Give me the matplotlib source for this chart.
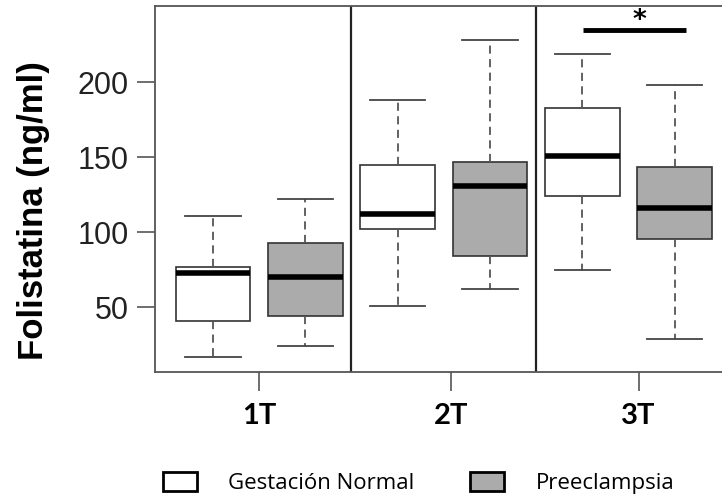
import matplotlib
matplotlib.use("Agg")
import matplotlib.pyplot as plt
from matplotlib.patches import Patch
import numpy as np

# values (ng/ml)
groups = ["1T", "2T", "3T"]
normal_lo = [17, 51, 75]
normal_q1 = [41, 102, 124]
normal_med = [73, 112, 151]
normal_q3 = [77, 145, 183]
normal_hi = [111, 188, 219]

pre_lo = [24, 62, 29]
pre_q1 = [44, 84, 95.5]
pre_med = [70, 131, 116]
pre_q3 = [93, 147, 143.5]
pre_hi = [122, 228, 198]

sig_y = 235

grey = "#ababab"

fig = plt.figure(figsize=(7.22, 5), dpi=100)
ax = fig.add_axes([0.2147, 0.256, 0.79, 0.732])

stats_n = []
stats_p = []
for i in range(3):
    stats_n.append(dict(whislo=normal_lo[i], q1=normal_q1[i], med=normal_med[i],
                        q3=normal_q3[i], whishi=normal_hi[i], fliers=[]))
    stats_p.append(dict(whislo=pre_lo[i], q1=pre_q1[i], med=pre_med[i],
                        q3=pre_q3[i], whishi=pre_hi[i], fliers=[]))

pos_n = [1, 3, 5]
pos_p = [2, 4, 6]

common = dict(widths=0.81, patch_artist=True, showfliers=False,
              medianprops=dict(color="black", linewidth=4, solid_capstyle="butt"),
              whiskerprops=dict(color="#555555", linestyle=(0, (4.5, 3)), linewidth=1.3),
              capprops=dict(color="#444444", linewidth=1.3),
              capwidths=0.6)
b1 = ax.bxp(stats_n, positions=pos_n, boxprops=dict(facecolor="white", edgecolor="#333333", linewidth=1.2), **common)
b2 = ax.bxp(stats_p, positions=pos_p, boxprops=dict(facecolor=grey, edgecolor="#333333", linewidth=1.2), **common)

# dividers between trimesters
ax.axvline(2.5, color="#222222", linewidth=1.6)
ax.axvline(4.5, color="#222222", linewidth=1.6)

# significance bar
ax.plot([5.01, 6.12], [sig_y, sig_y], color="black", linewidth=3.5, solid_capstyle="butt")
ax.text(5.62, sig_y + 1.0, "*", ha="center", va="baseline", fontsize=19, fontweight="bold")

ax.set_xlim(0.372, 6.55)
ax.set_ylim(6.7, 250.7)
ax.set_yticks([50, 100, 150, 200])
ax.set_yticklabels(["50", "100", "150", "200"], fontsize=22, family="Liberation Sans", color="#222222")
ax.set_xticks([1.5, 3.58, 5.61])
ax.set_xticklabels(groups, fontsize=21, fontweight="bold", family="Lato")
ax.tick_params(axis="y", length=13, width=1.2, color="#555555", pad=6)
ax.tick_params(axis="x", length=14, width=1.2, color="#555555", pad=8)

for s in ["left", "bottom", "top"]:
    ax.spines[s].set_color("#555555")
    ax.spines[s].set_linewidth(1.3)
ax.spines["right"].set_visible(False)

ax.set_ylabel("Folistatina (ng/ml)", fontsize=25, fontweight="bold", family="Liberation Sans")
ax.yaxis.set_label_coords(-0.184, 0.44)

handles = [Patch(facecolor="white", edgecolor="black", linewidth=2),
           Patch(facecolor=grey, edgecolor="black", linewidth=2)]
fig.legend(handles, ["Gestación Normal", "Preeclampsia"], ncol=2, frameon=False,
           loc="center", bbox_to_anchor=(0.58, 0.034), prop=dict(family="Open Sans", size=16),
           handlelength=1.53, handleheight=0.9, handletextpad=1.4, columnspacing=2.5)

fig.savefig("out.png", dpi=100)
